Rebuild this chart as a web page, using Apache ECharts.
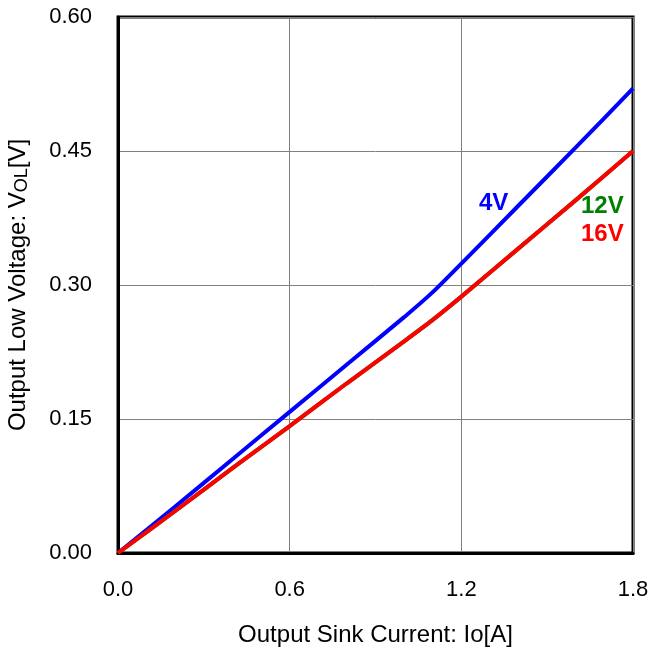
<!DOCTYPE html>
<html>
<head>
<meta charset="utf-8">
<script src="https://cdn.jsdelivr.net/npm/echarts@6/dist/echarts.min.js"></script>
<style>
  html, body { margin: 0; padding: 0; background: #fff; }
  #chart { width: 649px; height: 655px; }
</style>
</head>
<body>
<div id="chart"></div>
<script>
// sink current [A]
const current = [0, 0.2, 0.4, 0.6, 0.8, 1.0, 1.1, 1.2, 1.4, 1.6, 1.8];
// VOL [V] per supply voltage
const vol4V = [0, 0.052, 0.105, 0.158, 0.211, 0.264, 0.292, 0.324, 0.389, 0.454, 0.52];
const vol12V = [0, 0.047, 0.095, 0.142, 0.19, 0.237, 0.261, 0.287, 0.341, 0.395, 0.45];
const vol16V = [0, 0.047, 0.095, 0.142, 0.19, 0.237, 0.261, 0.287, 0.341, 0.395, 0.45];

const xTicks = [0, 0.6, 1.2, 1.8];
const yTicks = [0, 0.15, 0.30, 0.45, 0.60];

const pairs = (ys) => current.map((x, i) => [x, ys[i]]);

const chart = echarts.init(document.getElementById("chart"));

const font = "Arial, 'Liberation Sans', sans-serif";

const option = {
  animation: false,
  grid: {
    left: 118, top: 17, right: 16, bottom: 102,
    outerBoundsMode: "none", containLabel: false,
    show: true, borderColor: "#000", borderWidth: 3
  },
  xAxis: {
    type: "value",
    min: 0, max: 1.8, interval: 0.6,
    name: "Output Sink Current: Io[A]",
    nameLocation: "middle",
    nameGap: 70,
    nameTextStyle: { fontFamily: font, fontSize: 24, color: "#000" },
    axisLine: { lineStyle: { color: "#000", width: 3 } },
    axisTick: { show: false },
    axisLabel: {
      margin: 26, fontFamily: font, fontSize: 22, color: "#000",
      formatter: (v) => v.toFixed(1)
    },
    splitLine: { lineStyle: { color: "#808080", width: 1 } }
  },
  yAxis: {
    type: "value",
    min: 0, max: 0.6, interval: 0.15,
    name: "Output Low Voltage: V{s|OL}[V]",
    nameLocation: "middle",
    nameGap: 87,
    nameRotate: 90,
    nameTextStyle: {
      fontFamily: font, fontSize: 24, color: "#000",
      rich: { s: { fontFamily: font, fontSize: 18, color: "#000", verticalAlign: "bottom", padding: [7, 0, 0, 0] } }
    },
    axisLine: { lineStyle: { color: "#000", width: 3 } },
    axisTick: { show: false },
    axisLabel: {
      margin: 26, fontFamily: font, fontSize: 22, color: "#000",
      formatter: (v) => v.toFixed(2)
    },
    splitLine: { lineStyle: { color: "#808080", width: 1 } }
  },
  series: [
    {
      name: "4V", type: "line", data: pairs(vol4V), smooth: 0.2,
      showSymbol: false, lineStyle: { color: "#0000ff", width: 4 }, z: 3
    },
    {
      name: "12V", type: "line", data: pairs(vol12V), smooth: 0.2,
      showSymbol: false, lineStyle: { color: "#008000", width: 4 }, z: 4
    },
    {
      name: "16V", type: "line", data: pairs(vol16V), smooth: 0.2,
      showSymbol: false, lineStyle: { color: "#ff0000", width: 4 }, z: 5
    }
  ],
  graphic: [
    { type: "text", left: 479, top: 191, style: { text: "4V", fill: "#0000ff", font: "bold 24px " + font } },
    { type: "text", left: 581, top: 194, style: { text: "12V", fill: "#008000", font: "bold 24px " + font } },
    { type: "text", left: 581, top: 222, style: { text: "16V", fill: "#ff0000", font: "bold 24px " + font } }
  ]
};

chart.setOption(option);
</script>
</body>
</html>
